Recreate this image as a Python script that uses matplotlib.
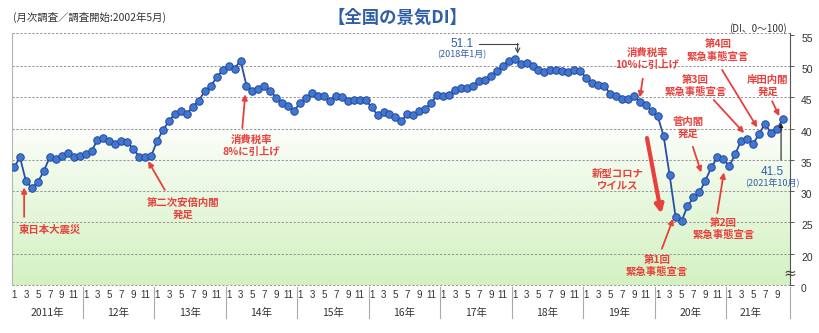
import matplotlib
matplotlib.use("Agg")
import matplotlib.pyplot as plt
import numpy as np
from matplotlib.transforms import blended_transform_factory, ScaledTranslation

plt.rcParams['font.family'] = ['Noto Sans CJK JP', 'DejaVu Sans']

# ---------------- data ----------------
year_labels = ['2011年', '12年', '13年', '14年', '15年', '16年',
               '17年', '18年', '19年', '20年', '21年']
month_ticks = ['1', '3', '5', '7', '9', '11']

di_2011 = [33.8, 35.4, 31.6, 30.5, 31.5, 33.2, 35.5, 35.2, 35.6, 36.1, 35.5, 35.7]
di_2012 = [35.9, 36.4, 38.2, 38.5, 38.1, 37.6, 38.1, 37.8, 36.8, 35.5, 35.4, 35.6]
di_2013 = [38.0, 39.8, 41.2, 42.4, 42.9, 42.4, 43.5, 44.5, 46.0, 46.8, 48.2, 49.4]
di_2014 = [50.1, 49.6, 50.9, 46.9, 46.1, 46.4, 46.9, 46.1, 44.9, 44.1, 43.6, 42.9]
di_2015 = [44.1, 44.9, 45.7, 45.2, 45.3, 44.5, 45.3, 45.1, 44.5, 44.6, 44.6, 44.6]
di_2016 = [43.4, 42.2, 42.7, 42.4, 41.9, 41.2, 42.4, 42.2, 42.9, 43.2, 44.1, 45.4]
di_2017 = [45.2, 45.4, 46.2, 46.5, 46.5, 46.9, 47.7, 47.8, 48.4, 49.2, 50.0, 50.9]
di_2018 = [51.1, 50.3, 50.5, 50.0, 49.4, 49.1, 49.4, 49.4, 49.3, 49.0, 49.4, 49.3]
di_2019 = [48.1, 47.3, 47.0, 46.9, 45.6, 45.2, 44.8, 44.8, 45.2, 44.3, 43.8, 42.8]
di_2020 = [42.0, 38.8, 32.6, 25.9, 25.2, 27.6, 29.0, 29.8, 31.7, 33.8, 35.4, 35.2]
di_2021 = [34.0, 35.9, 38.1, 38.4, 37.6, 39.1, 40.8, 39.3, 40.0, 41.5]

di = np.concatenate([di_2011, di_2012, di_2013, di_2014, di_2015, di_2016,
                     di_2017, di_2018, di_2019, di_2020, di_2021])
months = np.arange(len(di))

ytick_vals = [15, 20, 25, 30, 35, 40, 45, 50, 55]
ytick_labels = ['0', '20', '25', '30', '35', '40', '45', '50', '55']

RED = '#e8403c'
BLUE_TXT = '#2f5ea8'
LINE = '#2a4ea6'
MFACE = '#3f77d2'
MEDGE = '#26489a'

# ---------------- figure ----------------
fig = plt.figure(figsize=(8.2, 3.33), dpi=100)
ax = fig.add_axes([12 / 820, 48 / 333, 778 / 820, 252 / 333])
XMIN, XMAX = -0.34, 130.2
YMIN, YMAX = 15.0, 55.3
ax.set_xlim(XMIN, XMAX)
ax.set_ylim(YMIN, YMAX)

# green gradient background
vv = np.linspace(YMIN, 41, 200)
alpha = np.clip((41 - vv) / 26.0, 0, 1) ** 0.85
grad = np.zeros((len(vv), 1, 4))
grad[..., 0] = 0.80
grad[..., 1] = 0.94
grad[..., 2] = 0.72
grad[:, 0, 3] = alpha * 0.85
ax.imshow(grad, extent=[XMIN, XMAX, YMIN, 41], origin='lower',
          aspect='auto', zorder=0, interpolation='bilinear')

# grid lines
GRID = dict(color='#999999', lw=0.75, ls=(0, (2.2, 1.6)), zorder=1)
for v in [20, 25, 30, 35, 40, 45, 50]:
    ax.axhline(v, **GRID)
ax.axhline(YMAX, clip_on=False, **GRID)
ax.axhline(YMIN, clip_on=False, **GRID)

for s in ['top', 'bottom']:
    ax.spines[s].set_visible(False)
ax.spines['left'].set_color('#b5b5b5')
ax.spines['left'].set_linewidth(0.8)
ax.spines['right'].set_color('#555555')
ax.spines['right'].set_linewidth(0.8)

# line
ax.plot(months, di, color=LINE, lw=1.3, marker='o', ms=5.4,
        mfc=MFACE, mec=MEDGE, mew=0.7, zorder=3)

# y axis on the right
ax.set_xticks([])
ax.yaxis.tick_right()
ax.set_yticks(ytick_vals)
ax.set_yticklabels(ytick_labels, fontsize=7.5, color='#333333',
                   family=['Liberation Sans', 'DejaVu Sans'])
ax.tick_params(axis='y', direction='out', length=3, width=0.7, pad=5, colors='#555555')
for lab in ax.get_yticklabels():
    lab.set_color('#333333')
    lab.set_transform(lab.get_transform() + ScaledTranslation(0, -3 / 100, fig.dpi_scale_trans))

# axis break mark
ax.text(XMAX, 16.9, '≈', fontsize=11, color='#444444', ha='center', va='center',
        clip_on=False, zorder=5, family=['DejaVu Sans'])

# x axis labels (months / years / dividers)
bt = blended_transform_factory(ax.transData, ax.transAxes)
n_years = len(year_labels)
for i, yl in enumerate(year_labels):
    mts = month_ticks if i < n_years - 1 else month_ticks[:-1]
    for t in mts:
        m = 12 * i + int(t) - 1
        ax.text(m, -0.04, t, transform=bt, ha='center', va='center', fontsize=7,
                color='#333333', family=['Liberation Sans', 'DejaVu Sans'], clip_on=False)
    center = 12 * i + 5.5 if i < n_years - 1 else 12 * i + 3.5
    ax.text(center, -0.112, yl, transform=bt, ha='center', va='center', fontsize=7.5,
            color='#333333', clip_on=False)
    right = 12 * i + 11.5 if i < n_years - 1 else XMAX
    ax.plot([right, right], [-0.008, -0.13], transform=bt, color='#aaaaaa', lw=0.8,
            clip_on=False)

# ---------------- header texts ----------------
fig.text(13 / 820, 1 - 17 / 333, '(月次調査／調査開始:2002年5月)', fontsize=7.5,
         color='#333333', ha='left', va='center')
fig.text(397 / 820, 1 - 18 / 333, '【全国の景気DI】', fontsize=12.5, color=BLUE_TXT,
         ha='center', va='center', fontweight='bold')
fig.text(787 / 820, 1 - 29 / 333, '(DI、0～100)', fontsize=7, color='#333333',
         ha='right', va='center')

# ---------------- annotations ----------------
def red_text(x, y, s, fs=7.5):
    ax.text(x, y, s, color=RED, fontsize=fs, ha='center', va='center',
            linespacing=1.25, zorder=6, clip_on=False, fontweight='bold')

def red_arrow(tail, tip, lw=1.3, ms=8):
    ax.annotate('', xy=tip, xytext=tail,
                arrowprops=dict(arrowstyle='-|>', color=RED, lw=lw, mutation_scale=ms,
                                shrinkA=0, shrinkB=0),
                annotation_clip=False, zorder=6)

red_text(6.0, 23.8, '東日本大震災')
red_arrow((1.7, 25.9), (1.7, 30.6))

red_text(28.4, 27.2, '第二次安倍内閣\n発足')
red_arrow((25.3, 30.2), (22.5, 34.8))

red_text(39.9, 37.2, '消費税率\n8%に引上げ')
red_arrow((38.3, 40.1), (38.8, 45.5))

red_text(106.2, 51.2, '消費税率\n10%に引上げ')
red_arrow((105.5, 48.0), (105.0, 45.0))

red_text(118.1, 52.5, '第4回\n緊急事態宣言')
red_arrow((118.8, 49.4), (124.7, 40.2))

red_text(114.3, 46.8, '第3回\n緊急事態宣言')
red_arrow((117.4, 44.6), (122.5, 39.3))

red_text(126.5, 46.8, '岸田内閣\n発足')
red_arrow((127.2, 44.4), (128.4, 42.0))

red_text(113.1, 40.1, '菅内閣\n発足')
red_arrow((113.9, 37.1), (115.3, 33.0))

red_text(101.3, 31.8, '新型コロナ\nウイルス')
red_arrow((106.2, 38.5), (108.6, 26.4), lw=3.0, ms=12)

red_text(107.9, 18.1, '第1回\n緊急事態宣言')
red_arrow((108.7, 20.8), (110.6, 25.6))

red_text(119.0, 23.9, '第2回\n緊急事態宣言')
red_arrow((118.0, 26.5), (119.1, 33.0))

# peak / latest value callouts
ax.text(75.2, 53.6, '51.1', color=BLUE_TXT, fontsize=8.5, ha='center', va='center',
        family=['Liberation Sans', 'DejaVu Sans'])
ax.text(75.2, 51.8, '(2018年1月)', color=BLUE_TXT, fontsize=6.5, ha='center', va='center')
ax.plot([78.0, 84.5], [53.6, 53.6], color='#444444', lw=0.8, zorder=6)
ax.annotate('', xy=(84.5, 52.0), xytext=(84.5, 53.65),
            arrowprops=dict(arrowstyle='->', color='#444444', lw=0.8, mutation_scale=8,
                            shrinkA=0, shrinkB=0), zorder=6)

ax.text(127.3, 33.1, '41.5', color=BLUE_TXT, fontsize=8.5, ha='center', va='center',
        family=['Liberation Sans', 'DejaVu Sans'])
ax.text(127.3, 31.3, '(2021年10月)', color=BLUE_TXT, fontsize=6.5, ha='center', va='center')
ax.annotate('', xy=(128.7, 40.9), xytext=(128.7, 35.0),
            arrowprops=dict(arrowstyle='-|>', color='#222222', lw=0.8, mutation_scale=6,
                            shrinkA=0, shrinkB=0), zorder=6)

fig.savefig('out.png', dpi=100)
